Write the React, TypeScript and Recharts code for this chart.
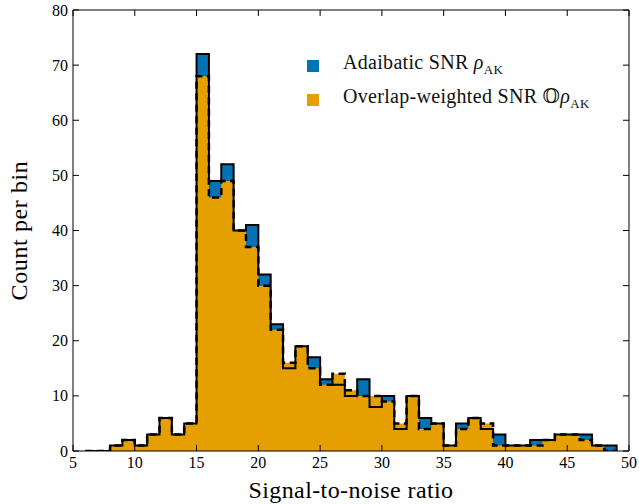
import { AreaChart, Area, XAxis, YAxis, Label, ReferenceLine } from 'recharts';

// bin left edges (width 1), last entry closes the final bin
const BIN_EDGES = [6, 7, 8, 9, 10, 11, 12, 13, 14, 15, 16, 17, 18, 19, 20, 21, 22, 23, 24, 25, 26, 27, 28,
  29, 30, 31, 32, 33, 34, 35, 36, 37, 38, 39, 40, 41, 42, 43, 44, 45, 46, 47, 48, 49];

const ADIABATIC = [0, 0, 1, 2, 1, 3, 6, 3, 5, 72, 49, 52, 40, 41, 32, 23, 15, 19, 17, 13, 12, 10, 13,
  8, 10, 4, 10, 6, 5, 1, 5, 6, 4, 3, 1, 1, 2, 2, 3, 3, 3, 1, 1];

const OVERLAP = [0, 0, 1, 2, 1, 3, 6, 3, 5, 68, 46, 49, 40, 37, 30, 22, 16, 19, 15, 12, 14, 11, 10,
  10, 9, 5, 10, 4, 5, 1, 4, 6, 5, 1, 1, 1, 1, 2, 3, 3, 2, 1, 0];

const X_TICKS = [5, 10, 15, 20, 25, 30, 35, 40, 45, 50];
const Y_TICKS = [0, 10, 20, 30, 40, 50, 60, 70, 80];

const BLUE = '#0173B2';
const ORANGE = '#E69F00';
const FONT = '"Liberation Serif", "DejaVu Serif", serif';

const W = 639;
const H = 504;
const MARGIN = { top: 10, right: 10, left: 0, bottom: 0 };
const TICK_LEN = 6;
const X_MARGIN = 6;
const Y_MARGIN = 5;

const data = BIN_EDGES.map((x, i) => ({
  x,
  adiabatic: ADIABATIC[i] ?? 0,
  overlap: OVERLAP[i] ?? 0,
}));

// inward ticks on bottom + top, label below
const XTick = (props: any) => {
  const { x, y, payload } = props;
  const axisY = y - X_MARGIN;
  const topY = MARGIN.top;
  return (
    <g>
      <line x1={x} y1={axisY} x2={x} y2={axisY - TICK_LEN} stroke="#000" />
      <line x1={x} y1={topY} x2={x} y2={topY + TICK_LEN} stroke="#000" />
      <text x={x} y={y} dy="0.71em" textAnchor="middle" fill="#000" fontSize={16} fontFamily={FONT}>
        {payload.value}
      </text>
    </g>
  );
};

// inward ticks on left + right, label to the left
const YTick = (props: any) => {
  const { x, y, payload } = props;
  const axisX = x + Y_MARGIN;
  const rightX = W - MARGIN.right;
  return (
    <g>
      <line x1={axisX} y1={y} x2={axisX + TICK_LEN} y2={y} stroke="#000" />
      <line x1={rightX} y1={y} x2={rightX - TICK_LEN} y2={y} stroke="#000" />
      <text x={x} y={y} dy="0.35em" textAnchor="end" fill="#000" fontSize={16} fontFamily={FONT}>
        {payload.value}
      </text>
    </g>
  );
};

const LegendBox = () => (
  <div style={{
    position: 'absolute', left: 307, top: 49, fontFamily: FONT, fontSize: 20, color: '#111',
    lineHeight: '27px', whiteSpace: 'nowrap', letterSpacing: 0.3,
  }}>
    <div style={{ display: 'flex', alignItems: 'center' }}>
      <span style={{ width: 12, height: 12, background: BLUE, display: 'inline-block', marginRight: 24 }} />
      <span>
        Adaibatic SNR <i>ρ</i>
        <sub style={{ fontSize: 13 }}>AK</sub>
      </span>
    </div>
    <div style={{ display: 'flex', alignItems: 'center' }}>
      <span style={{ width: 12, height: 12, background: ORANGE, display: 'inline-block', marginRight: 24 }} />
      <span>
        Overlap-weighted SNR 𝕆<i>ρ</i>
        <sub style={{ fontSize: 13 }}>AK</sub>
      </span>
    </div>
  </div>
);

export default function App() {
  return (
    <div style={{ position: 'absolute', left: 0, top: 0, width: W, height: H, background: '#fff' }}>
      <AreaChart width={W} height={H} data={data} margin={MARGIN}>
        <XAxis
          xAxisId="b"
          dataKey="x"
          type="number"
          domain={[5, 50]}
          ticks={X_TICKS}
          tickLine={false}
          tickSize={0}
          tickMargin={X_MARGIN}
          axisLine={{ stroke: '#000', strokeWidth: 1 }}
          tick={<XTick />}
          height={53}
          interval={0}
          allowDataOverflow
        >
          <Label value="Signal-to-noise ratio" position="insideBottom" offset={6}
            style={{ fill: '#000', fontSize: 24, fontFamily: FONT, letterSpacing: 0.4 }} />
        </XAxis>
        <YAxis
          yAxisId="l"
          type="number"
          domain={[0, 80]}
          ticks={Y_TICKS}
          tickLine={false}
          tickSize={0}
          tickMargin={Y_MARGIN}
          axisLine={{ stroke: '#000', strokeWidth: 1 }}
          tick={<YTick />}
          width={73}
          interval={0}
          allowDataOverflow
        >
          <Label value="Count per bin" angle={-90} position="insideLeft" offset={18}
            style={{ fill: '#000', fontSize: 24, fontFamily: FONT, textAnchor: 'middle', letterSpacing: 0.6 }} />
        </YAxis>

        <Area xAxisId="b" yAxisId="l" type="stepAfter" dataKey="adiabatic" stroke="none" fill={BLUE}
          fillOpacity={1} dot={false} activeDot={false} isAnimationActive={false} />
        <Area xAxisId="b" yAxisId="l" type="stepAfter" dataKey="overlap" stroke="none" fill={ORANGE}
          fillOpacity={1} dot={false} activeDot={false} isAnimationActive={false} />
        <Area xAxisId="b" yAxisId="l" type="stepAfter" dataKey="adiabatic" stroke="#000" strokeWidth={2}
          fill="none" dot={false} activeDot={false} isAnimationActive={false} />
        <Area xAxisId="b" yAxisId="l" type="stepAfter" dataKey="overlap" stroke="#000" strokeWidth={2.5}
          strokeDasharray="7 4.5" fill="none" dot={false} activeDot={false} isAnimationActive={false} />

        {/* top and right frame */}
        <ReferenceLine xAxisId="b" yAxisId="l" y={80} stroke="#000" strokeWidth={1} ifOverflow="visible" />
        <ReferenceLine xAxisId="b" yAxisId="l" x={50} stroke="#000" strokeWidth={1} ifOverflow="visible" />
      </AreaChart>
      <LegendBox />
    </div>
  );
}
